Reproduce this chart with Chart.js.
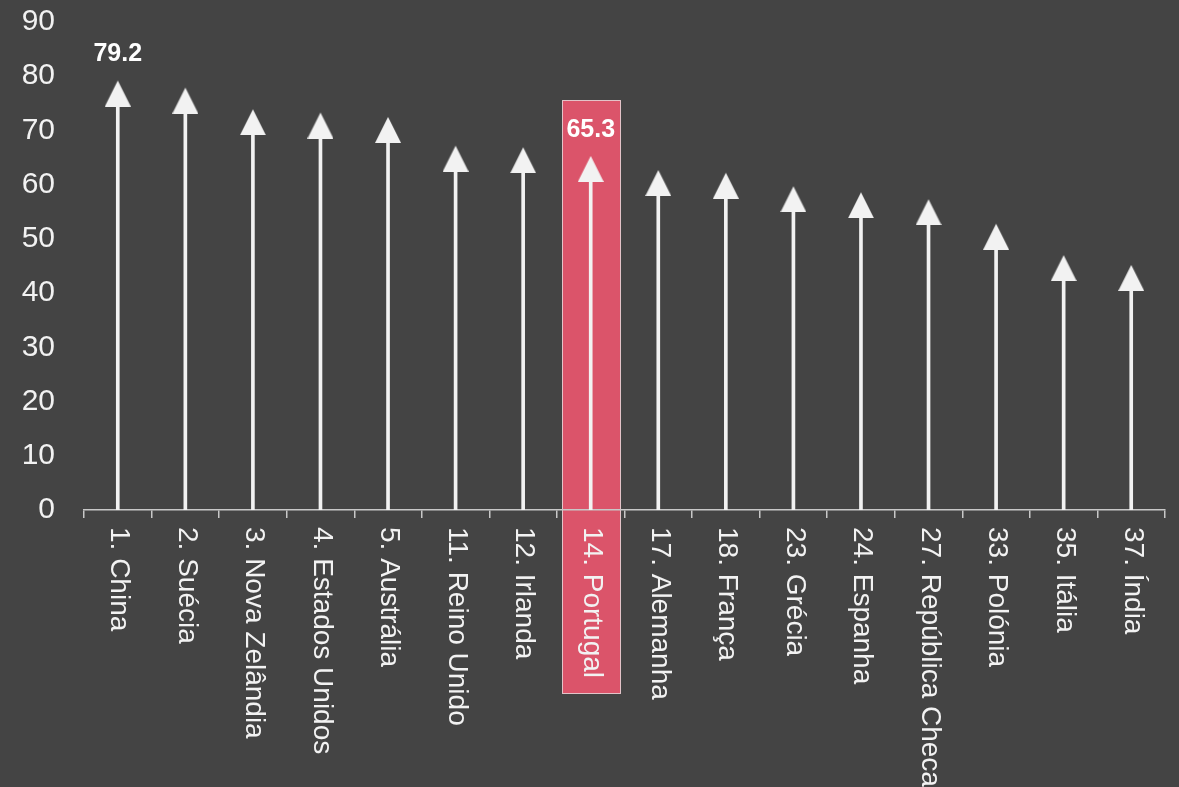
<!DOCTYPE html>
<html>
<head>
<meta charset="utf-8">
<script src="https://cdn.jsdelivr.net/npm/chart.js@4/dist/chart.umd.min.js"></script>
<style>
  html, body { margin: 0; padding: 0; background: #444444; }
  #wrap { width: 1179px; height: 787px; }
</style>
</head>
<body>
<div id="wrap"><canvas id="c" width="1179" height="787"></canvas></div>
<script>
// ---- data ----
const categories = ["1. China", "2. Suécia", "3. Nova Zelândia", "4. Estados Unidos", "5. Austrália",
  "11. Reino Unido", "12. Irlanda", "14. Portugal", "17. Alemanha", "18. França", "23. Grécia",
  "24. Espanha", "27. República Checa", "33. Polónia", "35. Itália", "37. Índia"];
const scores = [79.2, 77.9, 73.9, 73.3, 72.5, 67.2, 66.9, 65.3, 62.7, 62.2, 59.7, 58.6, 57.3, 52.8, 47.0, 45.2];
const yTicks = [0, 10, 20, 30, 40, 50, 60, 70, 80, 90];
const labelledIdx = [0, 7];
const highlightIdx = 7;

const FG = '#f2f2f2';
const FONT = "'Liberation Sans', Arial, sans-serif";

// triangle arrow head as a point style; tip sits on the value
function makeHead() {
  const w = 26, h = 26;
  const cv = document.createElement('canvas');
  cv.width = w; cv.height = h * 2;
  const g = cv.getContext('2d');
  g.fillStyle = FG;
  g.beginPath();
  g.moveTo(w / 2, h);
  g.lineTo(w, h * 2);
  g.lineTo(0, h * 2);
  g.closePath();
  g.fill();
  return cv;
}
const head = makeHead();

const bgPlugin = {
  id: 'bgAndHighlight',
  afterDatasetsUpdate(chart) {
    // stems end inside the arrow head
    chart.getDatasetMeta(0).data.forEach(el => { el.y = el.y + 12; });
  },
  beforeDraw(chart) {
    const ctx = chart.ctx;
    ctx.save();
    ctx.fillStyle = '#444444';
    ctx.fillRect(0, 0, chart.width, chart.height);
    // highlight box around Portugal
    const xs = chart.scales.x, ys = chart.scales.y;
    const cx = xs.getPixelForValue(highlightIdx);
    const cw = (xs.right - xs.left) / categories.length;
    const tip = ys.getPixelForValue(scores[highlightIdx]);
    const left = Math.round(cx - cw * 0.43) + 0.5;
    const right = Math.round(cx + cw * 0.43) + 0.5;
    const top = Math.round(tip - 56) + 0.5;
    const bottom = Math.round(ys.bottom) + 183.5;
    ctx.fillStyle = '#db546a';
    ctx.fillRect(left, top, right - left, bottom - top);
    ctx.strokeStyle = 'rgba(255,235,238,0.75)';
    ctx.lineWidth = 1;
    ctx.strokeRect(left, top, right - left, bottom - top);
    ctx.restore();
  }
};

const labelPlugin = {
  id: 'labels',
  afterDatasetsDraw(chart) {
    const ctx = chart.ctx;
    const xs = chart.scales.x, ys = chart.scales.y;
    const meta = chart.getDatasetMeta(1);
    ctx.save();
    // value labels
    ctx.fillStyle = '#ffffff';
    ctx.font = "bold 25px " + FONT;
    ctx.textAlign = 'center';
    ctx.textBaseline = 'middle';
    labelledIdx.forEach(i => {
      const el = meta.data[i];
      ctx.fillText(scores[i].toFixed(1), el.x, el.y - 26);
    });
    // category labels, rotated clockwise, reading top to bottom
    ctx.font = "28px " + FONT;
    ctx.fillStyle = FG;
    ctx.textAlign = 'left';
    ctx.textBaseline = 'middle';
    categories.forEach((c, i) => {
      const x = xs.getPixelForValue(i);
      ctx.save();
      ctx.translate(x + 1, ys.bottom + 17);
      ctx.rotate(Math.PI / 2);
      ctx.fillText(c, 0, 0);
      ctx.restore();
    });
    ctx.restore();
  }
};

new Chart(document.getElementById('c'), {
  type: 'bar',
  data: {
    labels: categories,
    datasets: [
      {
        type: 'bar',
        data: scores,
        backgroundColor: FG,
        borderWidth: 0,
        barThickness: 3,
        order: 2
      },
      {
        type: 'line',
        data: scores,
        showLine: false,
        pointStyle: head,
        pointRadius: 13,
        pointHoverRadius: 13,
        order: 1
      }
    ]
  },
  options: {
    responsive: false,
    devicePixelRatio: 1,
    animation: false,
    events: [],
    layout: { padding: { left: 0, right: 13, top: 22, bottom: 269 } },
    plugins: { legend: { display: false }, tooltip: { enabled: false } },
    scales: {
      x: {
        offset: true,
        grid: { display: true, drawOnChartArea: false, drawTicks: true, tickLength: 8, color: '#c8c8c8', lineWidth: 1.5, offset: true },
        border: { display: true, color: '#c8c8c8', width: 1.5 },
        ticks: { display: false }
      },
      y: {
        min: 0, max: 90,
        afterBuildTicks(scale) { scale.ticks = yTicks.map(v => ({ value: v })); },
        afterFit(scale) { scale.width = 84; scale.paddingTop = 0; scale.paddingBottom = 0; },
        grid: { display: false, drawTicks: false },
        border: { display: false },
        ticks: { color: FG, font: { family: FONT, size: 30 }, padding: 29 }
      }
    }
  },
  plugins: [bgPlugin, labelPlugin]
});
</script>
</body>
</html>
